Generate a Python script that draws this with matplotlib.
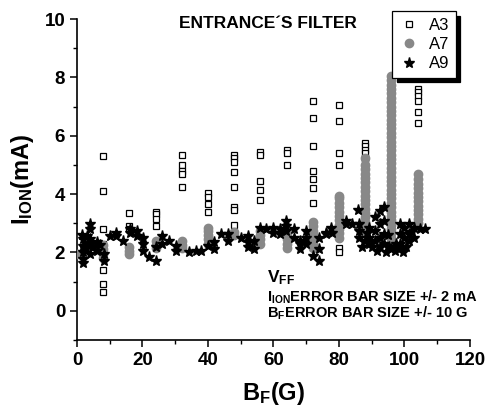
import matplotlib
matplotlib.use("Agg")
import matplotlib.pyplot as plt
from matplotlib.ticker import MultipleLocator

plt.rcParams['font.family'] = ['Liberation Sans', 'DejaVu Sans']
plt.rcParams['mathtext.fontset'] = 'custom'
plt.rcParams['mathtext.rm'] = 'Liberation Sans'
plt.rcParams['mathtext.bf'] = 'Liberation Sans:bold'
plt.rcParams['mathtext.it'] = 'Liberation Sans:italic'

# ---- data ----
a3_positions = [8, 16, 24, 32, 40, 48, 56, 64, 72, 80, 88, 96, 104]
a3_values = [
    [5.3, 4.1, 2.8, 2.3, 2.2, 1.4, 0.9, 0.65],
    [3.35, 2.9, 2.8, 2.0],
    [3.4, 3.3, 3.15, 2.9],
    [5.35, 5.0, 4.8, 4.7, 4.25],
    [4.05, 3.9, 3.65, 3.4],
    [5.35, 5.25, 5.1, 4.75, 4.25, 3.55, 3.45, 2.95],
    [5.45, 5.35, 4.45, 4.15, 3.8],
    [5.5, 5.4, 5.0],
    [7.2, 6.6, 5.65, 4.8, 4.5, 4.2, 3.7],
    [7.05, 6.5, 5.4, 5.0, 2.15, 2.0],
    [5.75, 5.65, 5.5, 5.4, 5.25, 5.1, 4.65, 4.35, 4.1],
    [7.95, 7.8, 7.65, 7.5, 7.35, 7.2, 7.05, 6.9, 6.5, 6.35, 6.2, 6.05,
     5.75, 5.6, 5.45, 5.3, 5.15, 4.9, 4.6],
    [7.6, 7.5, 7.35, 7.2, 6.8, 6.45],
]

a7_positions = [0, 8, 16, 24, 32, 40, 48, 56, 64, 72, 80, 88, 96, 104]
a7_values = [
    [1.95],
    [1.8, 1.95, 2.1, 2.25],
    [1.95, 2.05, 2.2],
    [2.15, 2.25, 2.4],
    [2.15, 2.25, 2.4],
    [2.3, 2.45, 2.6, 2.75, 2.85],
    [2.6, 2.7],
    [2.3, 2.45, 2.6, 2.75],
    [2.15, 2.3, 2.45, 2.6],
    [2.15, 2.3, 2.45, 2.6, 2.75, 2.9, 3.05],
    [2.5, 2.65, 2.8, 2.95, 3.1, 3.25, 3.4, 3.55, 3.7, 3.85, 3.95],
    [2.75, 2.9, 3.05, 3.2, 3.35, 3.5, 3.65, 3.8, 3.95, 4.1, 4.25, 4.4,
     4.55, 4.7, 4.85, 5.0, 5.25],
    [2.2, 2.35, 2.5, 2.65, 2.8, 2.95, 3.1, 3.25, 3.4, 3.55, 3.7, 3.85,
     4.0, 4.15, 4.3, 4.45, 4.6, 4.75, 4.9, 5.05, 5.2, 5.35, 5.5, 5.65,
     5.8, 5.95, 6.1, 6.25, 6.4, 6.55, 6.7, 6.85, 7.0, 7.15, 7.3, 7.45,
     7.6, 7.75, 7.9, 8.05],
    [3.0, 3.15, 3.3, 3.45, 3.6, 3.75, 3.9, 4.05, 4.2, 4.35, 4.5, 4.7],
]

a9_x = [1.5, 1.9, 1.9, 1.9, 2.0, 2.0, 2.5, 3.0, 4.0, 4.0, 4.0, 4.1, 4.1, 6.0, 6.0,
        8.2, 8.2, 10.0, 12.0, 12.0, 14.0, 16.2, 16.2, 18.2, 18.2, 20.2, 20.2, 20.2,
        22.0, 24.0, 24.0, 26.1, 26.1, 28.1, 30.2, 30.2, 34.2, 36.3, 38.0, 40.0,
        42.0, 42.0, 44.0, 46.0, 46.0, 50.2, 52.2, 52.2, 52.2, 54.0, 54.0,
        56.0, 57.8, 59.9, 59.9, 61.9, 61.9, 63.9, 63.9, 63.9, 66.2, 66.2,
        68.0, 68.0, 68.0, 70.0, 70.0, 70.0, 72.0, 74.0, 74.0, 74.0, 76.0, 76.0,
        78.0, 77.6, 82.0, 82.0, 84.0, 85.7, 86.0, 86.0, 86.0, 88.0, 89.3, 89.3,
        89.3, 90.9, 90.9, 90.9, 92.4, 92.4, 92.4, 92.4, 93.9, 93.9, 93.9, 93.9,
        95.4, 97.0, 97.0, 98.5, 98.5, 98.5, 100.0, 100.0, 101.5, 101.5, 101.5,
        103.0, 103.0, 104.6, 106.4, 87.0, 91.5, 94.5, 99.0, 96.0, 97.5, 99.5,
        2.8, 3.2, 5.0, 7.0, 88.5, 90.0, 95.0, 100.5, 102.0]
a9_y = [2.6, 2.45, 2.23, 2.0, 1.77, 1.65, 2.1, 2.3, 2.97, 2.8, 2.47, 2.29, 1.95, 2.34,
        2.05, 1.94, 1.71, 2.57, 2.68, 2.57, 2.4, 2.8, 2.68, 2.74, 2.57, 2.51, 2.29,
        2.05, 1.83, 1.71, 2.17, 2.57, 2.29, 2.4, 2.23, 2.05, 2.0, 2.05, 2.05, 2.23,
        2.34, 2.1, 2.63, 2.63, 2.4, 2.51, 2.57, 2.34, 2.17, 2.4, 2.11,
        2.85, 2.8, 2.85, 2.68, 2.8, 2.63, 3.08, 2.91, 2.74, 2.8, 2.51,
        2.4, 2.28, 2.11, 2.74, 2.51, 2.28, 1.88, 2.51, 2.11, 1.71, 2.68, 2.63,
        2.68, 2.85, 3.08, 2.97, 2.97, 3.45, 2.97, 2.74, 2.51, 2.4, 2.85, 2.51,
        2.28, 3.2, 2.74, 2.4, 3.42, 2.97, 2.51, 2.17, 3.54, 3.08, 2.63, 2.28,
        2.17, 2.17, 2.05, 2.97, 2.63, 2.28, 2.85, 2.51, 2.97, 2.63, 2.4,
        2.85, 2.51, 2.8, 2.8, 2.2, 2.05, 2.0, 2.15, 2.1, 2.3, 2.0,
        2.15, 2.55, 2.2, 2.25, 2.65, 2.2, 2.6, 2.2, 2.7]

x_ticks = [0, 20, 40, 60, 80, 100, 120]
y_ticks = [0, 2, 4, 6, 8, 10]

# ---- figure ----
fig = plt.figure(figsize=(4.87, 4.07), dpi=100)
ax = fig.add_axes([0.158, 0.165, 0.807, 0.788])

a3_x = [p for p, vals in zip(a3_positions, a3_values) for _ in vals]
a3_y = [v for vals in a3_values for v in vals]
a7_x = [p for p, vals in zip(a7_positions, a7_values) for _ in vals]
a7_y = [v for vals in a7_values for v in vals]

ax.plot(a3_x, a3_y, linestyle='none', marker='s', markersize=4.2,
        markerfacecolor='white', markeredgecolor='black', markeredgewidth=0.9,
        label='A3', zorder=3)
ax.plot(a7_x, a7_y, linestyle='none', marker='o', markersize=6,
        markerfacecolor='#888888', markeredgecolor='#888888', label='A7', zorder=4)
ax.plot(a9_x, a9_y, linestyle='none', marker='*', markersize=8,
        markerfacecolor='black', markeredgecolor='black', label='A9', zorder=5)

ax.set_xlim(0, 120)
ax.set_ylim(-1, 10)
ax.set_xticks(x_ticks)
ax.set_yticks(y_ticks)
ax.xaxis.set_minor_locator(MultipleLocator(10))
ax.yaxis.set_minor_locator(MultipleLocator(1))
for s in ['top', 'right']:
    ax.spines[s].set_visible(False)
for s in ['left', 'bottom']:
    ax.spines[s].set_linewidth(1.2)
ax.tick_params(which='major', direction='out', length=5, width=1.1,
               labelsize=13.5)
ax.tick_params(which='minor', direction='out', length=3, width=1.0)
for lab in ax.get_xticklabels() + ax.get_yticklabels():
    lab.set_fontweight('bold')

ax.set_xlabel(r'$\mathbf{B_F(G)}$', fontsize=17, labelpad=8)
ax.set_ylabel(r'$\mathbf{I_{ION}(mA)}$', fontsize=17, labelpad=6)

fig.text(0.551, 0.943, 'ENTRANCE\u00b4S FILTER', fontsize=12.5, fontweight='bold',
         ha='center', va='center')

tx = 0.484
ax.text(tx, 0.178, r'$\mathbf{V_{FF}}$', transform=ax.transAxes,
        fontsize=12.5, va='baseline', ha='left')
ax.text(tx, 0.134, r'$\mathbf{I_{ION}}$ERROR BAR SIZE +/- 2 mA',
        transform=ax.transAxes, fontsize=10.5, fontweight='bold', va='center', ha='left')
ax.text(tx, 0.084, r'$\mathbf{B_F}$ERROR BAR SIZE +/- 10 G',
        transform=ax.transAxes, fontsize=10.5, fontweight='bold', va='center', ha='left')

leg = ax.legend(loc='upper right', bbox_to_anchor=(0.937, 0.972),
                bbox_transform=fig.transFigure, frameon=True, fancybox=False,
                shadow={'color': 'black', 'alpha': 1.0, 'ox': 3, 'oy': -3}, fontsize=12,
                handletextpad=0.6, borderpad=0.4, labelspacing=0.25,
                handlelength=1.2, borderaxespad=0)
leg.get_frame().set_edgecolor('black')
leg.get_frame().set_linewidth(0.9)

fig.savefig('out.png', dpi=100)
